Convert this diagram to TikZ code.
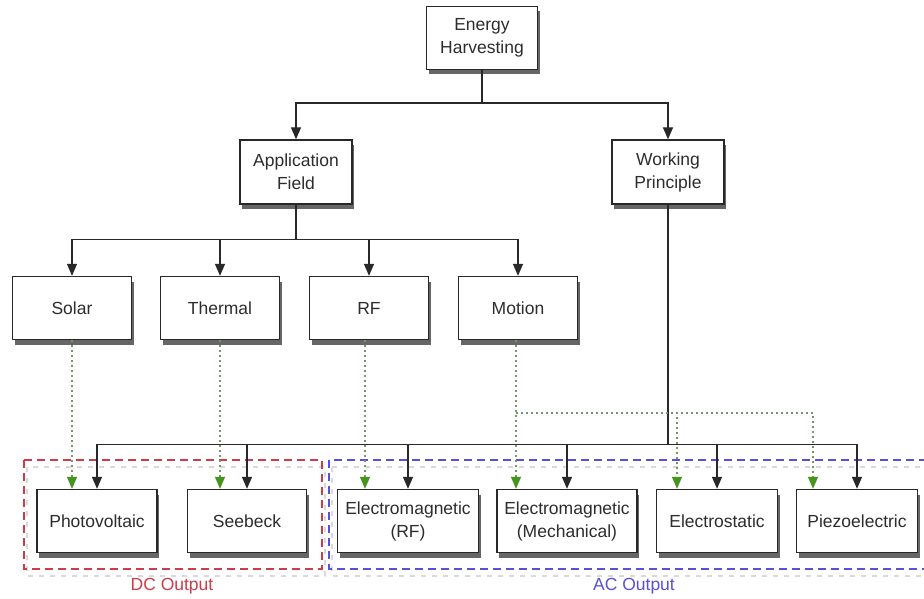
\documentclass[tikz,border=0pt]{standalone}
\usepackage{fontspec}
\setmainfont{Liberation Sans}
\usetikzlibrary{shadows,arrows.meta}
\definecolor{txt}{RGB}{45,45,45}
\definecolor{edge}{RGB}{40,40,40}
\definecolor{grn}{RGB}{70,150,30}
\definecolor{dotc}{RGB}{120,150,105}
\definecolor{dcred}{RGB}{205,60,75}
\definecolor{acblue}{RGB}{90,80,215}
\tikzset{
  box/.style={draw=edge, line width=1.4pt, fill=white, text=txt, align=center,
    font=\fontsize{17.5}{23}\selectfont, inner sep=0pt,
    drop shadow={shadow xshift=2pt, shadow yshift=-5pt, opacity=0.8, fill=black!75}},
  arr/.style={draw=edge, line width=1.4pt, -{Triangle[length=12pt,width=10pt]}},
  dotarr/.style={draw=dotc, line width=1.3pt, dash pattern=on 1.5pt off 3.5pt,
    -{Triangle[length=12pt,width=10pt,fill=grn,color=grn]}},
  group/.style={line width=2pt, dash pattern=on 8pt off 5pt},
  groupshadow/.style={draw=black!15, line width=1.5pt, dash pattern=on 5pt off 6pt},
  lbl/.style={font=\fontsize{17.5}{20}\selectfont}
}
\begin{document}
\begin{tikzpicture}[x=1pt,y=-1pt]
\useasboundingbox (0,0) rectangle (924,599);
\fill[white] (0,0) rectangle (924,599);

% group boxes
\draw[groupshadow] (27,467) rectangle (325,576);
\draw[groupshadow] (332,467) rectangle (935,576);
\draw[group, draw=dcred] (24,460) rectangle (322,569);
\draw[group, draw=acblue] (329,460) rectangle (935,569);
\node[lbl, text=dcred] (dc) at (172,586) {DC Output};
\node[lbl, text=acblue] (ac) at (634,586) {AC Output};

% nodes
\node[box, minimum width=111pt, minimum height=63pt] (eh) at (482,38) {Energy\\Harvesting};
\node[box, minimum width=112pt, minimum height=64pt] (af) at (296,172) {Application\\Field};
\node[box, minimum width=112pt, minimum height=64pt] (wp) at (668,172) {Working\\Principle};

\node[box, minimum width=119pt, minimum height=63pt] (solar) at (72,308) {Solar};
\node[box, minimum width=119pt, minimum height=63pt] (thermal) at (220,308) {Thermal};
\node[box, minimum width=119pt, minimum height=63pt] (rf) at (369,308) {RF};
\node[box, minimum width=119pt, minimum height=63pt] (motion) at (518,308) {Motion};

\node[box, minimum width=120pt, minimum height=63pt] (pv) at (97,521) {Photovoltaic};
\node[box, minimum width=119pt, minimum height=63pt] (sb) at (247,521) {Seebeck};
\node[box, minimum width=141pt, minimum height=63pt] (emrf) at (408,521) {Electromagnetic\\(RF)};
\node[box, minimum width=140pt, minimum height=63pt] (emm) at (567,521) {Electromagnetic\\(Mechanical)};
\node[box, minimum width=121pt, minimum height=63pt] (es) at (717,521) {Electrostatic};
\node[box, minimum width=121pt, minimum height=63pt] (pz) at (857,521) {Piezoelectric};

% top level
\draw[arr] (eh.south) -- ++(0,33) -| (af.north);
\draw[arr] (eh.south) -- ++(0,33) -| (wp.north);

% application field
\foreach \n in {solar,thermal,rf,motion}
  \draw[arr] (af.south) -- ++(0,35) -| (\n.north);

% working principle
\foreach \n in {pv,sb,emrf,emm,es,pz}
  \draw[arr] (wp.south) -- ++(0,240) -| (\n.north);

% dotted green links
\draw[dotarr] (solar.south) -- (solar.south |- pv.north);
\draw[dotarr] (thermal.south) -- (thermal.south |- sb.north);
\draw[dotarr] ([xshift=-4pt]rf.south) -- ([xshift=-4pt]rf.south |- emrf.north);
\draw[dotarr] ([xshift=-2pt]motion.south) -- ([xshift=-2pt]motion.south |- emm.north);
\coordinate (mj) at ([xshift=-2pt]motion.south |- 0,413);
\draw[dotarr] (mj) -| ([xshift=-40pt]es.north);
\draw[dotarr] (mj) -| ([xshift=-44pt]pz.north);
\end{tikzpicture}
\end{document}
